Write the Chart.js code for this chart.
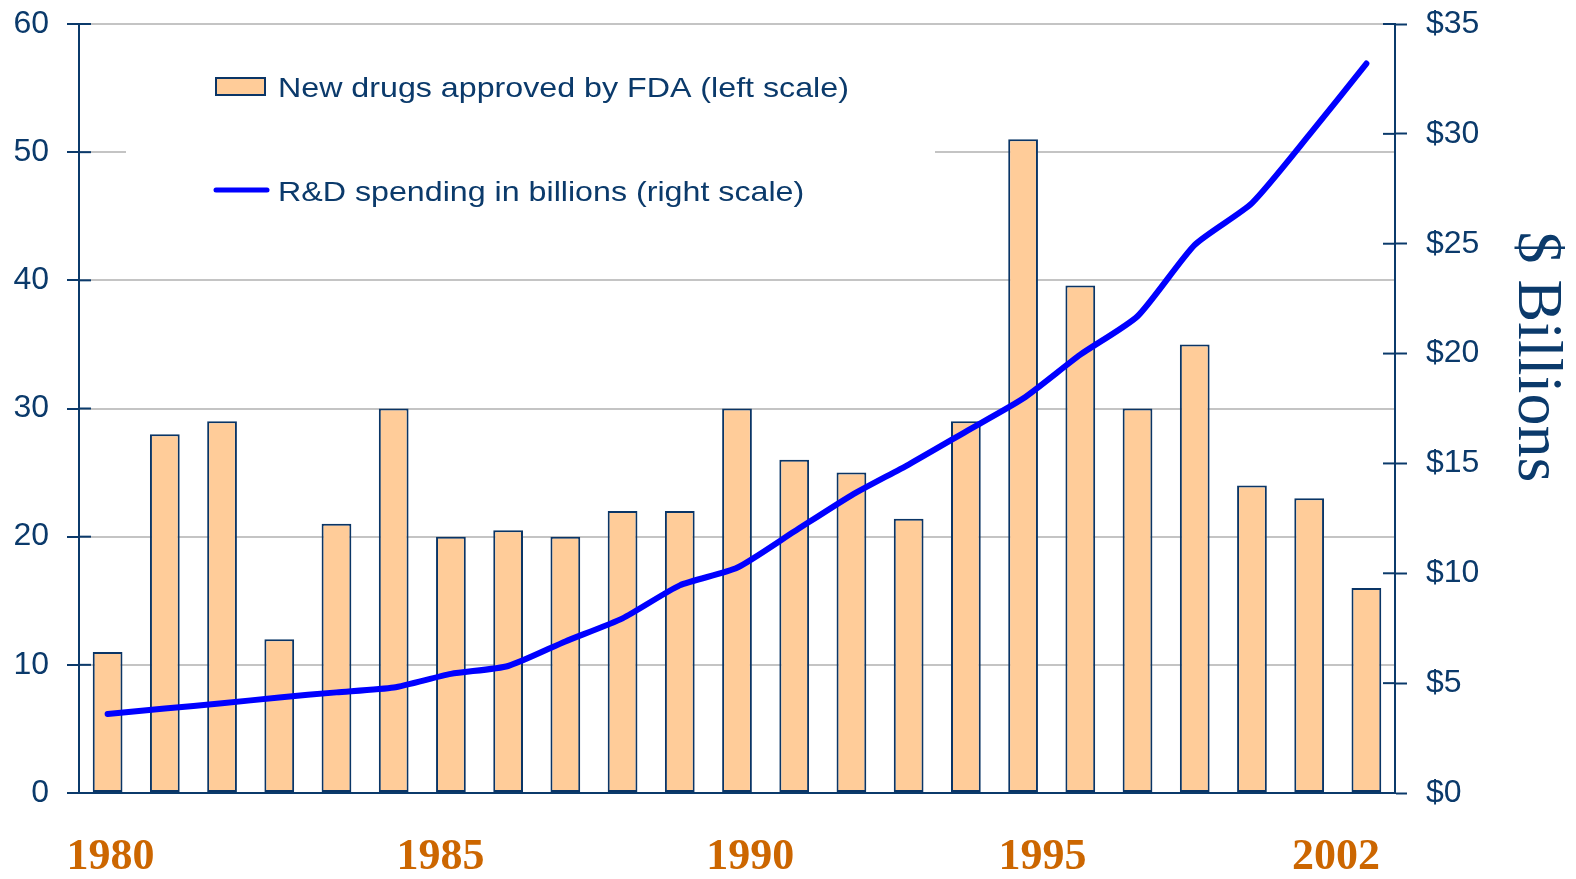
<!DOCTYPE html>
<html>
<head>
<meta charset="utf-8">
<title>New drugs approved vs R&amp;D spending</title>
<script src="https://cdn.jsdelivr.net/npm/chart.js@4.4.1/dist/chart.umd.min.js"></script>
<style>
  html, body { margin: 0; padding: 0; background: #fff; }
  #wrap { width: 1576px; height: 879px; }
</style>
</head>
<body>
<div id="wrap"><canvas id="combo-chart" width="1576" height="879"></canvas></div>
<script>
// Data
const years = ['1980', '1981', '1982', '1983', '1984', '1985', '1986', '1987', '1988', '1989', '1990', '1991',
               '1992', '1993', '1994', '1995', '1996', '1997', '1998', '1999', '2000', '2001', '2002'];
const newDrugs = [11, 28, 29, 12, 21, 30, 20, 20.5, 20, 22, 22, 30, 26, 25, 21.4, 29, 51, 39.6, 30, 35, 24, 23, 16];
const rdSpending = [3.6, 3.85, 4.08, 4.35, 4.58, 4.8, 5.42, 5.78, 6.9, 7.95, 9.45, 10.25, 11.9, 13.55, 14.95,
                    16.45, 17.95, 19.95, 21.7, 24.95, 26.85, 29.95, 33.2];
const leftTicks = [0, 10, 20, 30, 40, 50, 60];
const rightTicks = [0, 5, 10, 15, 20, 25, 30, 35];
const yearTicks = ['1980', '1985', '1990', '1995', '2002'];

// the year labels sit a bit off the bar centres on the slide (in bar widths)
const yearShift = [0.05, 0.82, 1.23, 1.34, -0.53];

const navy = '#0b3a6b';
const gridGray = '#c4c4c4';
const sansFont = "'Liberation Sans', Arial, sans-serif";
const serifFont = "'Liberation Serif', 'Times New Roman', serif";

// legend, inner tick marks and the "$ Billions" title
const slideExtras = {
    id: 'slideExtras',
    beforeDatasetsDraw(chart) {
        const ctx = chart.ctx;
        const bars = chart.data.datasets[1];
        const line = chart.data.datasets[0];
        ctx.save();
        // white box behind the legend (hides part of the 50 gridline)
        ctx.fillStyle = '#ffffff';
        ctx.fillRect(126, 40, 809, 220);

        ctx.fillStyle = bars.backgroundColor;
        ctx.fillRect(216, 78, 49, 17);
        ctx.strokeStyle = bars.borderColor;
        ctx.lineWidth = 2;
        ctx.strokeRect(216, 78, 49, 17);

        ctx.strokeStyle = line.borderColor;
        ctx.lineWidth = 5;
        ctx.lineCap = 'round';
        ctx.beginPath();
        ctx.moveTo(216, 190);
        ctx.lineTo(267, 190);
        ctx.stroke();

        ctx.fillStyle = navy;
        ctx.font = '28px ' + sansFont;
        ctx.textBaseline = 'alphabetic';
        [[bars.label, 97], [line.label, 201]].forEach(([txt, y]) => {
            ctx.save();
            ctx.translate(278, y);
            ctx.scale(1.15, 1);
            ctx.fillText(txt, 0, 0);
            ctx.restore();
        });
        ctx.restore();
    },
    afterDatasetsDraw(chart) {
        const ctx = chart.ctx;
        const area = chart.chartArea;
        ctx.save();
        ctx.strokeStyle = navy;
        ctx.lineWidth = 2;
        chart.scales.y.ticks.forEach((t, i) => {
            const py = chart.scales.y.getPixelForTick(i);
            ctx.beginPath();
            ctx.moveTo(area.left, py);
            ctx.lineTo(area.left + 12, py);
            ctx.stroke();
        });
        chart.scales.y2.ticks.forEach((t, i) => {
            const py = chart.scales.y2.getPixelForTick(i);
            ctx.beginPath();
            ctx.moveTo(area.right - 12, py);
            ctx.lineTo(area.right, py);
            ctx.stroke();
        });
        ctx.restore();
    },
    afterDraw(chart) {
        const ctx = chart.ctx;
        const area = chart.chartArea;
        ctx.save();
        ctx.translate(chart.width - 40, area.top + (area.bottom - area.top) * 0.433);
        ctx.rotate(Math.PI / 2);
        ctx.fillStyle = navy;
        ctx.font = '64px ' + serifFont;
        ctx.textAlign = 'center';
        ctx.textBaseline = 'middle';
        ctx.fillText('$ Billions', 0, 0);
        ctx.restore();
    }
};

// keep tick labels from pushing the plot area down
function noVerticalPad(s) {
    s.paddingTop = 0;
    s.paddingBottom = 0;
}

new Chart(document.getElementById('combo-chart'), {
    type: 'bar',
    data: {
        labels: years,
        datasets: [
            {
                type: 'line',
                label: 'R&D spending in billions (right scale)',
                data: rdSpending,
                yAxisID: 'y2',
                borderColor: '#0000ff',
                borderWidth: 6,
                borderCapStyle: 'round',
                borderJoinStyle: 'round',
                pointRadius: 0,
                tension: 0.2,
                order: 0
            },
            {
                label: 'New drugs approved by FDA (left scale)',
                data: newDrugs,
                yAxisID: 'y',
                backgroundColor: '#ffcc99',
                borderColor: '#0a3566',
                borderWidth: 2,
                borderSkipped: false,
                barPercentage: 0.52,
                categoryPercentage: 1.0,
                order: 1
            }
        ]
    },
    options: {
        responsive: false,
        devicePixelRatio: 1,
        animation: false,
        layout: { padding: { top: 24, left: 0, right: 0, bottom: 0 } },
        plugins: {
            legend: { display: false },
            tooltip: { enabled: false }
        },
        scales: {
            x: { display: false, offset: true },
            xYear: {
                type: 'linear',
                position: 'bottom',
                offset: false,
                min: -0.5,
                max: years.length - 0.5,
                grid: { display: false, drawTicks: false, offset: false },
                border: { display: false },
                afterBuildTicks: s => {
                    s.ticks = yearTicks.map((y, i) => ({ value: years.indexOf(y) + yearShift[i] }));
                },
                afterFit: s => { s.height = 86; },
                ticks: {
                    autoSkip: false,
                    maxRotation: 0,
                    padding: 38,
                    color: '#cc6600',
                    font: { family: serifFont, size: 44, weight: 'bold' },
                    callback: (v, i) => yearTicks[i]
                }
            },
            y: {
                position: 'left',
                min: 0,
                max: 60,
                afterBuildTicks: s => { s.ticks = leftTicks.map(v => ({ value: v })); },
                afterFit: s => { s.width = 79; noVerticalPad(s); },
                grid: {
                    color: c => (c.tick && c.tick.value === 0) ? navy : gridGray,
                    lineWidth: 2,
                    tickLength: 12,
                    tickColor: navy,
                    tickWidth: 2
                },
                border: { display: true, color: navy, width: 2 },
                ticks: {
                    padding: 18,
                    color: navy,
                    font: { family: sansFont, size: 32 }
                }
            },
            y2: {
                position: 'right',
                min: 0,
                max: 35,
                afterBuildTicks: s => { s.ticks = rightTicks.map(v => ({ value: v })); },
                afterFit: s => { s.width = 181; noVerticalPad(s); },
                grid: {
                    drawOnChartArea: false,
                    tickLength: 12,
                    tickColor: navy,
                    tickWidth: 2
                },
                border: { display: true, color: navy, width: 2 },
                ticks: {
                    padding: 19,
                    color: navy,
                    font: { family: sansFont, size: 32 },
                    callback: v => '$' + v
                }
            }
        }
    },
    plugins: [slideExtras]
});
</script>
</body>
</html>
